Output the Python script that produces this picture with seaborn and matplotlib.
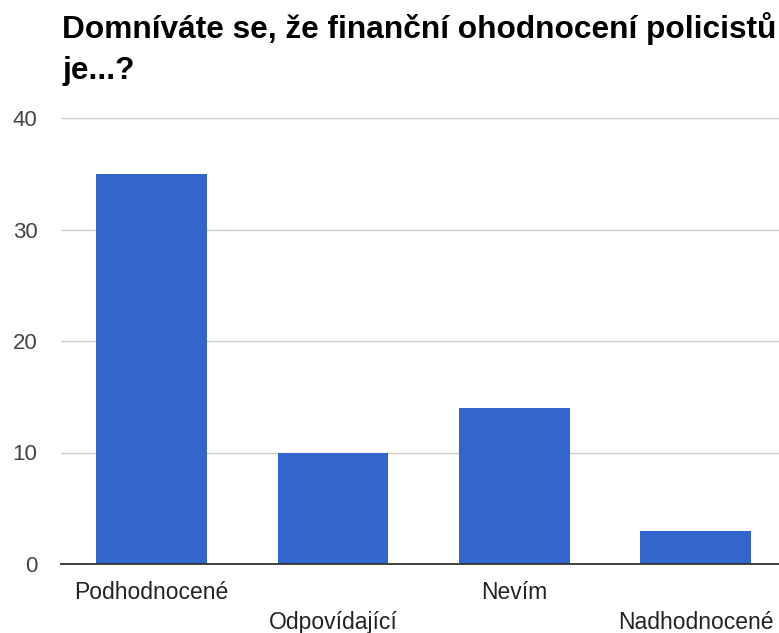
import pandas as pd
import matplotlib
matplotlib.use("Agg")
import matplotlib.pyplot as plt
import seaborn as sns

# =====================================================
# DATA
# =====================================================

categories = ["Podhodnocené", "Odpovídající", "Nevím", "Nadhodnocené"]
counts = [35, 10, 14, 3]
y_ticks = [0, 10, 20, 30, 40]
title = "Domníváte se, že finanční ohodnocení policistů\nje...?"

df = pd.DataFrame({"odpoved": categories, "pocet": counts})

# =====================================================
# STYLE
# =====================================================

sns.set_style("white")
plt.rcParams["font.family"] = ["Liberation Sans", "DejaVu Sans"]

W, H = 779, 633
fig = plt.figure(figsize=(W / 100, H / 100), dpi=100)
ax = fig.add_axes([61 / W, 1 - 564 / H, 1 - 61 / W, (564 - 118) / H])

sns.barplot(
    data=df,
    x="odpoved",
    y="pocet",
    color="#3366cc",
    saturation=1,
    width=0.61,
    edgecolor="none",
    ax=ax,
)

ax.set_ylim(0, 40)
ax.set_xlim(-0.5, 3.46)
ax.set_yticks(y_ticks)
ax.set_yticklabels([str(v) for v in y_ticks], fontsize=16, color="#444444")
ax.tick_params(axis="y", length=0, pad=17)
ax.tick_params(axis="x", length=0, labelsize=16.5, labelcolor="#222222")

ax.grid(axis="y", color="#cccccc", linewidth=1)
ax.set_axisbelow(True)
for side in ["left", "right", "top"]:
    ax.spines[side].set_visible(False)
ax.spines["bottom"].set_color("#333333")
ax.spines["bottom"].set_linewidth(1.3)

# staggered category labels
for i, tick in enumerate(ax.xaxis.get_major_ticks()):
    tick.set_pad(12 if i % 2 == 0 else 34)

ax.set_xlabel("")
ax.set_ylabel("")

fig.text(
    62 / W,
    1 - 12 / H,
    title,
    fontsize=22.8,
    fontweight="bold",
    color="#000000",
    ha="left",
    va="top",
    linespacing=1.48,
)

fig.savefig("out.png", dpi=100)
plt.close(fig)
